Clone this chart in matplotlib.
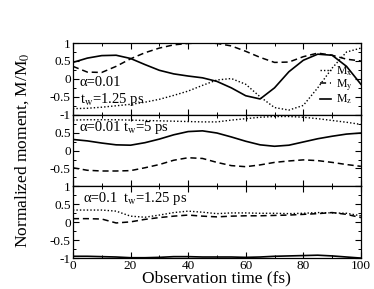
import matplotlib
matplotlib.use("Agg")
import matplotlib.pyplot as plt
from matplotlib.ticker import MultipleLocator

plt.rcParams["font.family"] = ["Liberation Serif", "DejaVu Serif"]
plt.rcParams["mathtext.fontset"] = "stix"
plt.rcParams["axes.unicode_minus"] = False

# observation time (fs)
t = [0, 5, 10, 15, 20, 25, 30, 35, 40, 45, 50,
     55, 60, 65, 70, 75, 80, 85, 90, 95, 100]

# panel 1: alpha=0.01, tw=1.25 ps
p1_mx = [-0.83, -0.82, -0.79, -0.75, -0.71, -0.65, -0.57, -0.46, -0.34, -0.18, -0.03,
         0.01, -0.15, -0.50, -0.80, -0.87, -0.74, -0.25, 0.30, 0.75, 0.86]
p1_my = [0.35, 0.19, 0.18, 0.35, 0.56, 0.73, 0.86, 0.95, 0.99, 1.0, 0.99,
         0.92, 0.77, 0.60, 0.46, 0.47, 0.62, 0.72, 0.66, 0.55, 0.50]
p1_mz = [0.46, 0.58, 0.65, 0.66, 0.57, 0.40, 0.24, 0.14, 0.08, 0.03, -0.07,
         -0.25, -0.47, -0.56, -0.25, 0.20, 0.52, 0.69, 0.66, 0.35, -0.15]

# panel 2: alpha=0.01, tw=5 ps
p2_mx = [0.85, 0.86, 0.86, 0.86, 0.85, 0.84, 0.83, 0.82, 0.81, 0.80, 0.80,
         0.85, 0.89, 0.93, 0.95, 0.95, 0.93, 0.89, 0.84, 0.79, 0.73]
p2_my = [-0.48, -0.55, -0.57, -0.57, -0.56, -0.48, -0.39, -0.27, -0.20, -0.22, -0.33,
         -0.42, -0.45, -0.40, -0.33, -0.29, -0.26, -0.28, -0.33, -0.39, -0.44]
p2_mz = [0.31, 0.27, 0.21, 0.16, 0.15, 0.22, 0.32, 0.44, 0.53, 0.55, 0.49,
         0.38, 0.26, 0.16, 0.12, 0.15, 0.24, 0.33, 0.40, 0.46, 0.49]

# panel 3: alpha=0.1, tw=1.25 ps
p3_mx = [0.34, 0.34, 0.34, 0.31, 0.17, 0.14, 0.20, 0.27, 0.31, 0.28, 0.24,
         0.26, 0.26, 0.25, 0.25, 0.24, 0.25, 0.27, 0.26, 0.25, 0.18]
p3_my = [0.10, 0.10, 0.09, -0.02, 0.01, 0.08, 0.13, 0.17, 0.20, 0.17, 0.15,
         0.17, 0.18, 0.18, 0.19, 0.20, 0.22, 0.24, 0.27, 0.22, 0.13]
p3_mz = [-0.95, -0.95, -0.96, -0.97, -0.99, -0.99, -0.98, -0.96, -0.96, -0.97, -0.97,
         -0.97, -0.98, -0.97, -0.95, -0.94, -0.93, -0.92, -0.94, -0.97, -1.0]

panels = [(p1_mx, p1_my, p1_mz), (p2_mx, p2_my, p2_mz), (p3_mx, p3_my, p3_mz)]
ytick_vals = [-1, -0.5, 0, 0.5, 1]
ytick_text = ["-1", "-0.5", "0", "0.5", "1"]

fig, axes = plt.subplots(3, 1, sharex=True, figsize=(3.74, 2.89), dpi=100)
fig.subplots_adjust(left=0.195, right=0.965, top=0.851, bottom=0.107, hspace=0)

for i, (ax, (mx, my, mz)) in enumerate(zip(axes, panels)):
    ax.plot(t, mx, color="black", lw=1.0, ls=(0, (1, 1.5)), label=r"M$_\mathrm{x}$")
    ax.plot(t, my, color="black", lw=1.1, ls=(0, (4, 2.5)), label=r"M$_\mathrm{y}$")
    ax.plot(t, mz, color="black", lw=1.2, label=r"M$_\mathrm{z}$")
    ax.set_xlim(0, 100)
    ax.set_ylim(-1, 1)
    ax.set_yticks(ytick_vals)
    if i == 1:
        ax.set_yticklabels(["", "-0.5", "0", "0.5", ""])
    else:
        ax.set_yticklabels(ytick_text)
    ax.xaxis.set_major_locator(MultipleLocator(20))
    ax.xaxis.set_minor_locator(MultipleLocator(10))
    ax.yaxis.set_minor_locator(MultipleLocator(0.25))
    ax.tick_params(which="both", direction="in", top=True, right=True,
                   labelsize=9.5, pad=1.5)
    ax.tick_params(which="major", length=4, width=0.8)
    ax.tick_params(which="minor", length=2.5, width=0.7)
    for sp in ax.spines.values():
        sp.set_linewidth(0.9)

axes[-1].set_xticks([0, 20, 40, 60, 80, 100])
axes[-1].set_xlabel("Observation time (fs)", fontsize=12.5, labelpad=-1)
fig.text(0.06, 0.48, r"Normalized moment, M/M$_0$", rotation=90,
         ha="center", va="center", fontsize=12.5)

axes[0].text(2.4, -0.1, "\u03b1=0.01", fontsize=10.5, va="center")
axes[0].text(2.4, -0.58, r"t$_\mathrm{w}$=1.25 ps", fontsize=10.5, va="center")
axes[1].text(2.4, 0.64, "\u03b1=0.01", fontsize=10.5, va="center")
axes[1].text(17.4, 0.64, r"t$_\mathrm{w}$=5 ps", fontsize=10.5, va="center")
axes[2].text(3.5, 0.66, "\u03b1=0.1", fontsize=10.5, va="center")
axes[2].text(17.4, 0.66, r"t$_\mathrm{w}$=1.25 ps", fontsize=10.5, va="center")

axes[0].legend(loc="lower right", bbox_to_anchor=(1.0, 0.0), frameon=False,
               fontsize=8.5, handlelength=1.0, handletextpad=0.4,
               labelspacing=0.0, borderpad=0.2)

fig.savefig("out.png", dpi=100)
